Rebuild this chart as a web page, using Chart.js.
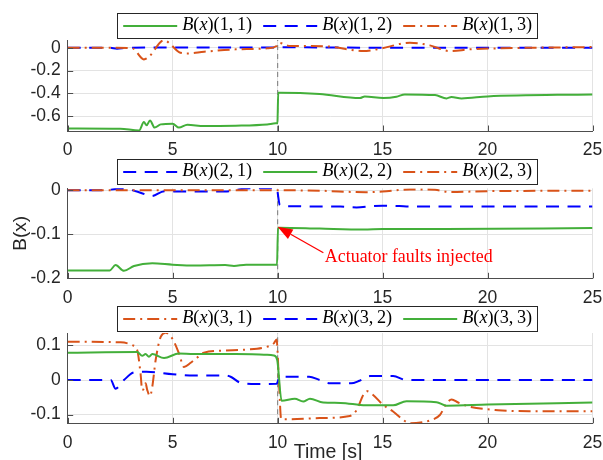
<!DOCTYPE html>
<html><head><meta charset="utf-8">
<script src="https://cdn.jsdelivr.net/npm/chart.js@4.4.0/dist/chart.umd.min.js"></script>
<style>
html,body{margin:0;padding:0;background:#fff;width:603px;height:460px;overflow:hidden}
canvas{position:absolute;left:0;top:0}
</style></head><body>
<canvas id="c1" width="603" height="460"></canvas>
<canvas id="c2" width="603" height="460"></canvas>
<canvas id="c3" width="603" height="460"></canvas>
<script>
// ---------- data ----------
const xTicks = [0, 5, 10, 15, 20, 25];
const xTickLabels = ['0', '5', '10', '15', '20', '25'];
const faultTime = 10;

// panel 1
const t11 = [0, 2.5, 3.4, 3.63, 3.76, 3.92, 4.14, 4.43, 5.0, 5.3, 5.7, 6.5, 8.0, 9.5, 9.9, 9.99, 10.03, 10.1, 12, 13.92, 14.15, 15.03, 15.66, 16.06, 17.5, 18.05, 18.28, 18.76, 20, 25];
const b11 = [-0.707, -0.71, -0.725, -0.652, -0.68, -0.637, -0.70, -0.672, -0.666, -0.70, -0.675, -0.687, -0.683, -0.672, -0.663, -0.66, -0.395, -0.395, -0.406, -0.441, -0.427, -0.441, -0.43, -0.409, -0.415, -0.444, -0.432, -0.444, -0.427, -0.409];
const t12 = [0, 2.0, 2.35, 2.8, 5, 9.9, 10.1, 14, 25];
const b12 = [0, 0, -0.008, 0, 0.002, 0.002, 0.004, 0.001, 0.001];
const t13 = [0, 2.0, 3.08, 3.63, 3.87, 4.59, 4.9, 5.3, 5.7, 6.5, 8, 9.5, 9.95, 10.05, 10.6, 11.5, 12.5, 14.08, 14.87, 16.3, 17.25, 18.2, 19.16, 20.5, 25];
const b13 = [0, 0, -0.005, -0.102, -0.079, 0.067, 0.03, -0.038, -0.05, -0.035, -0.014, -0.005, 0.015, 0.044, 0.015, 0.015, 0.01, -0.029, -0.009, 0.044, 0.021, -0.029, -0.014, -0.005, 0.006];

// panel 2
const t21 = [0, 1.8, 2.3, 3.0, 3.5, 4.0, 4.6, 5.5, 7.5, 8.3, 8.8, 9.9, 9.98, 10.1, 10.3, 13.0, 13.76, 14.5, 15.0, 15.8, 16.3, 25];
const b21 = [0, 0, 0.003, 0.001, -0.006, -0.013, -0.002, -0.003, -0.003, 0.003, 0.005, 0.005, 0.0, -0.033, -0.036, -0.037, -0.039, -0.036, -0.035, -0.036, -0.037, -0.037];
const t22 = [0, 2.0, 2.28, 2.68, 3.16, 4.03, 5.0, 6.0, 7.5, 7.92, 8.5, 9.97, 10.02, 10.1, 12, 14.1, 15, 18, 25];
const b22 = [-0.182, -0.182, -0.170, -0.183, -0.172, -0.166, -0.169, -0.171, -0.170, -0.172, -0.169, -0.169, -0.085, -0.085, -0.087, -0.089, -0.088, -0.088, -0.0857];
const t23 = [0, 10, 12, 14.2, 15, 16.3, 17.5, 18.2, 20, 25];
const b23 = [0, 0, -0.001, -0.0045, -0.003, 0.002, 0.001, -0.004, -0.002, -0.001];

// panel 3
const t31 = [0, 2.52, 3.08, 3.31, 3.47, 3.55, 3.63, 3.71, 3.79, 3.92, 4.03, 4.19, 4.43, 4.67, 4.98, 5.3, 5.54, 5.86, 6.17, 6.49, 7.5, 8.5, 9.35, 9.82, 9.95, 10.06, 10.17, 10.59, 12, 13.44, 13.76, 14.08, 14.24, 14.55, 15.03, 15.5, 15.98, 16.3, 17.0, 17.25, 17.73, 18.05, 18.29, 18.6, 19.16, 20.5, 22, 25];
const b31 = [0.111, 0.109, 0.101, 0.087, 0.019, -0.029, -0.024, -0.0096, -0.029, -0.046, -0.019, 0.058, 0.125, 0.137, 0.12, 0.077, 0.038, 0.05, 0.065, 0.079, 0.085, 0.088, 0.094, 0.106, 0.117, 0, -0.113, -0.113, -0.11, -0.104, -0.087, -0.043, -0.032, -0.043, -0.072, -0.091, -0.115, -0.125, -0.121, -0.117, -0.101, -0.067, -0.056, -0.065, -0.077, -0.087, -0.090, -0.090];
const t32 = [0, 2.05, 2.28, 2.68, 3.16, 3.75, 5.0, 6.0, 7.5, 7.76, 8.24, 9.0, 9.95, 10.1, 11.5, 12.0, 12.5, 13.5, 13.9, 14.4, 15.5, 16.14, 25];
const b32 = [0, 0, -0.025, 0, 0.022, 0.024, 0.017, 0.013, 0.013, 0.0096, -0.008, -0.0115, -0.011, 0.0096, 0.0096, 0, -0.0096, -0.0096, -0.002, 0.0115, 0.0115, 0, 0];
const t33 = [0, 3.31, 3.55, 3.71, 3.87, 4.03, 4.59, 5.3, 6, 8, 9.5, 9.82, 9.98, 10.19, 10.82, 11.22, 11.54, 12.17, 13, 14.2, 15.5, 16.14, 17.57, 18.05, 20, 25];
const b33 = [0.079, 0.081, 0.070, 0.075, 0.067, 0.075, 0.0635, 0.077, 0.075, 0.075, 0.073, 0.071, 0.058, -0.060, -0.054, -0.062, -0.054, -0.065, -0.066, -0.073, -0.073, -0.061, -0.064, -0.074, -0.071, -0.065];

const labels1 = ['B(x)(1,1)', 'B(x)(1,2)', 'B(x)(1,3)'];
const labels2 = ['B(x)(2,1)', 'B(x)(2,2)', 'B(x)(2,3)'];
const labels3 = ['B(x)(3,1)', 'B(x)(3,2)', 'B(x)(3,3)'];

const yTicks1 = [0, -0.2, -0.4, -0.6];
const yTickLabels1 = ['0', '-0.2', '-0.4', '-0.6'];
const yTicks2 = [0, -0.1, -0.2];
const yTickLabels2 = ['0', '-0.1', '-0.2'];
const yTicks3 = [0.1, 0, -0.1];
const yTickLabels3 = ['0.1', '0', '-0.1'];

const yLim1 = [-0.73, 0.068];
const yLim2 = [-0.2, 0.0045];
const yLim3 = [-0.125, 0.136];

const yAxisTitle = 'B(x)';
const xAxisTitle = 'Time [s]';
const annotationText = 'Actuator faults injected';
const arrowTip = [10, -0.083];
const arrowTail = [12.18, -0.142];
const annotationAt = [12.25, -0.164];

// ---------- styles ----------
const GREEN = '#43AF3A', BLUE = '#0000FF', ORANGE = '#D95319';
const STY = {
  solid: { color: GREEN, dash: [] },
  dash: { color: BLUE, dash: [13, 8.5] },
  dashdot: { color: ORANGE, dash: [12, 5, 2, 5] }
};
const TICKFONT = { family: '"Liberation Sans", Arial, sans-serif', size: 17.5 };
const TXT = '#262626';

function zip(t, v) { return t.map((x, i) => ({ x: x, y: v[i] })); }

function series(t, v, sty, idx) {
  return { data: zip(t, v), showLine: true, borderColor: STY[sty].color, borderDash: STY[sty].dash,
           borderWidth: 2, pointRadius: 0, fill: false, order: 10 - idx, borderJoinStyle: 'round',
           cubicInterpolationMode: 'monotone', sty: sty };
}
function faultLine(lim) {
  return { data: [{ x: faultTime, y: lim[0] }, { x: faultTime, y: lim[1] }], showLine: true,
           borderColor: '#8c8c8c', borderDash: [5, 4], borderWidth: 1.2, pointRadius: 0, order: 20, fault: true };
}

function drawMath(ctx, x, y, text, size) {
  let parts = [];
  for (const ch of text) {
    const it = /[A-Za-z]/.test(ch);
    parts.push([ch === ',' ? ',\u2009' : ch, it]);
  }
  let total = 0;
  for (const [s, it] of parts) { ctx.font = (it ? 'italic ' : '') + size + 'px "Liberation Serif", serif'; total += ctx.measureText(s).width; }
  const sz = size * 70 / total;
  for (const [s, it] of parts) {
    ctx.font = (it ? 'italic ' : '') + sz + 'px "Liberation Serif", serif';
    ctx.fillText(s, x, y);
    x += ctx.measureText(s).width;
  }
}

const decor = {
  id: 'decor',
  afterDatasetsDraw(chart, args, o) {
    const { ctx, chartArea: a, scales: { x, y } } = chart;
    ctx.save();
    ctx.strokeStyle = '#4d4d4d'; ctx.lineWidth = 1;
    ctx.beginPath();
    for (const v of xTicks) { const px = Math.round(x.getPixelForValue(v)) + 0.5; ctx.moveTo(px, a.bottom); ctx.lineTo(px, a.bottom - 5.5); }
    for (const v of o.yTicks) { const py = Math.round(y.getPixelForValue(v)) + 0.5; ctx.moveTo(a.left, py); ctx.lineTo(a.left + 5.5, py); }
    ctx.stroke();

    const L = 117.5, R = 537.5, T = o.legendTop + 0.5, H = 25;
    ctx.fillStyle = '#fff'; ctx.fillRect(L, T, R - L, H);
    ctx.strokeStyle = '#262626'; ctx.lineWidth = 1; ctx.strokeRect(L, T, R - L, H);
    const cy = T + H / 2;
    const ds = chart.data.datasets.filter(d => !d.fault);
    ds.forEach((d, i) => {
      const sx = L + 5.7 + 140 * i;
      ctx.save();
      ctx.strokeStyle = d.borderColor; ctx.lineWidth = 2; ctx.setLineDash(d.borderDash);
      ctx.beginPath(); ctx.moveTo(sx, cy); ctx.lineTo(sx + 54, cy); ctx.stroke();
      ctx.restore();
      ctx.fillStyle = '#000'; ctx.textBaseline = 'alphabetic'; ctx.textAlign = 'left';
      drawMath(ctx, sx + 59, cy + 4, o.labels[i], 18);
    });

    if (o.annotate) {
      const tx = x.getPixelForValue(arrowTip[0]), ty = y.getPixelForValue(arrowTip[1]);
      const ax = x.getPixelForValue(arrowTail[0]), ay = y.getPixelForValue(arrowTail[1]);
      const ang = Math.atan2(ty - ay, tx - ax);
      const hl = 15, hw = 5.5;
      const bx = tx - hl * Math.cos(ang), by = ty - hl * Math.sin(ang);
      ctx.strokeStyle = '#ff0000'; ctx.fillStyle = '#ff0000'; ctx.lineWidth = 1.3;
      ctx.beginPath(); ctx.moveTo(ax, ay); ctx.lineTo(bx, by); ctx.stroke();
      ctx.beginPath(); ctx.moveTo(tx, ty);
      ctx.lineTo(bx + hw * Math.sin(ang), by - hw * Math.cos(ang));
      ctx.lineTo(bx - hw * Math.sin(ang), by + hw * Math.cos(ang));
      ctx.closePath(); ctx.fill();
      let fs = 18;
      ctx.font = fs + 'px "Liberation Serif", serif';
      fs = fs * 168 / ctx.measureText(annotationText).width;
      ctx.font = fs + 'px "Liberation Serif", serif';
      ctx.textAlign = 'left'; ctx.textBaseline = 'alphabetic';
      ctx.fillText(annotationText, x.getPixelForValue(annotationAt[0]), y.getPixelForValue(annotationAt[1]));
      ctx.save();
      ctx.translate(25.5, (a.top + a.bottom) / 2);
      ctx.rotate(-Math.PI / 2);
      ctx.fillStyle = TXT; ctx.textAlign = 'center'; ctx.textBaseline = 'alphabetic';
      ctx.font = '19px "Liberation Sans", Arial, sans-serif';
      ctx.fillText(yAxisTitle, 0, 0);
      ctx.restore();
    }
    if (o.xTitle) {
      ctx.fillStyle = TXT; ctx.textAlign = 'center'; ctx.textBaseline = 'alphabetic';
      ctx.font = '19.5px "Liberation Sans", Arial, sans-serif';
      ctx.fillText(xAxisTitle, 328, 457.5);
    }
    ctx.restore();
  }
};

function makeChart(id, cfg) {
  const datasets = cfg.sets.map((s, i) => series(s[0], s[1], s[2], i));
  datasets.push(faultLine(cfg.lim));
  return new Chart(document.getElementById(id), {
    type: 'scatter',
    data: { datasets: datasets },
    options: {
      responsive: false, animation: false, devicePixelRatio: 1,
      layout: { padding: { left: 0, right: 10.5, top: cfg.top, bottom: 0 } },
      plugins: {
        legend: { display: false }, tooltip: { enabled: false },
        decor: { yTicks: cfg.yTicks, legendTop: cfg.legendTop, labels: cfg.labels, annotate: !!cfg.annotate, xTitle: !!cfg.xTitle }
      },
      scales: {
        x: {
          type: 'linear', min: 0, max: 25,
          afterBuildTicks: s => { s.ticks = xTicks.map(v => ({ value: v })); },
          afterFit: s => { s.height = 460 - cfg.bottom; s.paddingLeft = 0; s.paddingRight = 0; },
          grid: { color: '#e3e3e3', drawTicks: false },
          border: { color: '#4d4d4d', width: 1 },
          ticks: { font: TICKFONT, color: TXT, padding: 9, maxRotation: 0, autoSkip: false,
                   callback: v => xTickLabels[xTicks.indexOf(v)] }
        },
        y: {
          type: 'linear', min: cfg.lim[0], max: cfg.lim[1],
          afterBuildTicks: s => { s.ticks = cfg.yTicks.map(v => ({ value: v })); },
          afterFit: s => { s.width = 67.7; s.paddingTop = 0; s.paddingBottom = 0; },
          grid: { color: '#e3e3e3', drawTicks: false },
          border: { color: '#4d4d4d', width: 1 },
          ticks: { font: TICKFONT, color: TXT, padding: 7, autoSkip: false,
                   callback: v => { const k = cfg.yTicks.findIndex(a => Math.abs(a - v) < 1e-9); return cfg.yLabels[k]; } }
        }
      }
    },
    plugins: [decor]
  });
}

makeChart('c1', { top: 40, bottom: 131, lim: yLim1, yTicks: yTicks1, yLabels: yTickLabels1, legendTop: 13, labels: labels1,
  sets: [[t11, b11, 'solid'], [t12, b12, 'dash'], [t13, b13, 'dashdot']] });
makeChart('c2', { top: 188.3, bottom: 278.3, lim: yLim2, yTicks: yTicks2, yLabels: yTickLabels2, legendTop: 159, labels: labels2, annotate: true,
  sets: [[t21, b21, 'dash'], [t22, b22, 'solid'], [t23, b23, 'dashdot']] });
makeChart('c3', { top: 333, bottom: 423.3, lim: yLim3, yTicks: yTicks3, yLabels: yTickLabels3, legendTop: 306, labels: labels3, xTitle: true,
  sets: [[t31, b31, 'dashdot'], [t32, b32, 'dash'], [t33, b33, 'solid']] });
</script>
</body></html>
